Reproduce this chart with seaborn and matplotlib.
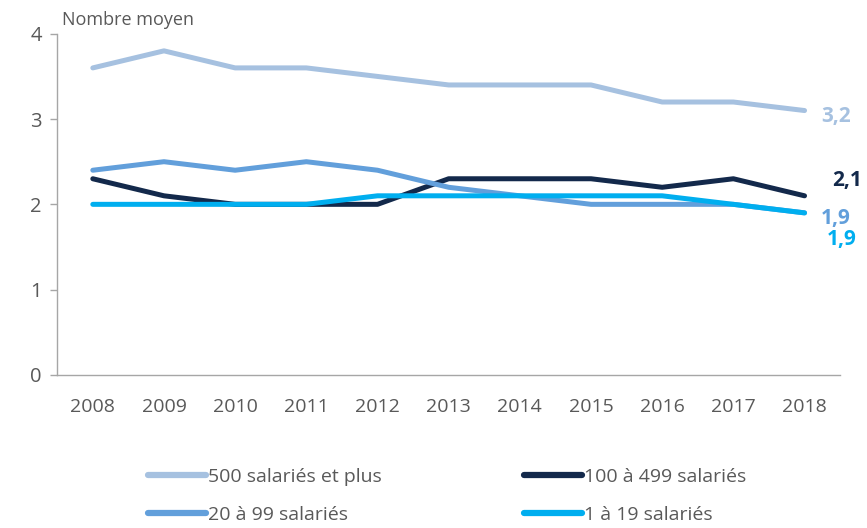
import pandas as pd
import matplotlib.pyplot as plt
import seaborn as sns

# Data
years = [2008, 2009, 2010, 2011, 2012, 2013, 2014, 2015, 2016, 2017, 2018]
series_names = ["500 salariés et plus", "100 à 499 salariés",
                "20 à 99 salariés", "1 à 19 salariés"]
v_500_plus = [3.6, 3.8, 3.6, 3.6, 3.5, 3.4, 3.4, 3.4, 3.2, 3.2, 3.1]
v_100_499 = [2.3, 2.1, 2.0, 2.0, 2.0, 2.3, 2.3, 2.3, 2.2, 2.3, 2.1]
v_20_99 = [2.4, 2.5, 2.4, 2.5, 2.4, 2.2, 2.1, 2.0, 2.0, 2.0, 1.9]
v_1_19 = [2.0, 2.0, 2.0, 2.0, 2.1, 2.1, 2.1, 2.1, 2.1, 2.0, 1.9]
end_labels = ["3,2", "2,1", "1,9", "1,9"]

colors = ["#A6C1E0", "#13294B", "#629FDB", "#00AEEF"]

# long format table for seaborn
all_vals = [v_500_plus, v_100_499, v_20_99, v_1_19]
rows = []
for name, vals in zip(series_names, all_vals):
    for i, v in enumerate(vals):
        rows.append({"pos": i, "year": years[i], "serie": name, "val": v})
df = pd.DataFrame(rows)

sns.set_theme(style="white")
plt.rcParams['font.family'] = ['Open Sans', 'DejaVu Sans']
gray = "#595959"

fig = plt.figure(figsize=(8.67, 5.28), dpi=100)
ax = fig.add_axes([0.066, 0.29, 0.903, 0.646])

sns.lineplot(data=df, x="pos", y="val", hue="serie", hue_order=series_names,
             palette=colors, linewidth=3.6, ax=ax, legend=False,
             solid_capstyle="round")

ax.set_xlim(-0.5, len(years) - 0.5)
ax.set_ylim(0, 4)
ax.set_yticks([0, 1, 2, 3, 4])
ax.set_xticks(range(len(years)))
ax.set_xticklabels([str(y) for y in years])
ax.set_xticks([i - 0.5 for i in range(len(years) + 1)], minor=True)
ax.tick_params(axis="x", which="major", length=0, pad=17, labelsize=14, labelcolor=gray)
ax.tick_params(axis="x", which="minor", length=5, color="#A6A6A6", width=1)
ax.tick_params(axis="y", which="major", length=5, color="#A6A6A6", width=1,
               labelsize=14.5, labelcolor=gray, pad=6, left=True)
ax.set_xlabel("")
ax.set_ylabel("")
for side in ["top", "right"]:
    ax.spines[side].set_visible(False)
for side in ["left", "bottom"]:
    ax.spines[side].set_color("#A6A6A6")
    ax.spines[side].set_linewidth(1)

fig.text(0.072, 0.946, "Nombre moyen", fontsize=13, color=gray, va="bottom")

# end of line value labels
offsets = [(12, -4), (20, 11), (12, -4), (16, -19)]
for vals, lab, col, off in zip(all_vals, end_labels, colors, offsets):
    ax.annotate(lab, xy=(len(vals) - 1, vals[-1]), xytext=off,
                textcoords="offset points", color=col, fontsize=15,
                fontweight="bold", va="center", ha="left", annotation_clip=False)

# legend below, row order: 500+ / 100-499, then 20-99 / 1-19
handles = [plt.Line2D([], [], color=c, linewidth=4.5, solid_capstyle="round") for c in colors]
order = [0, 2, 1, 3]
fig.legend([handles[i] for i in order], [series_names[i] for i in order],
           ncol=2, loc="lower left",
           bbox_to_anchor=(0.15, -0.025), frameon=False, fontsize=14,
           labelcolor=gray, handlelength=3.0, handletextpad=0.1,
           columnspacing=7.3, labelspacing=1.0)

plt.savefig("out.png", dpi=100)
